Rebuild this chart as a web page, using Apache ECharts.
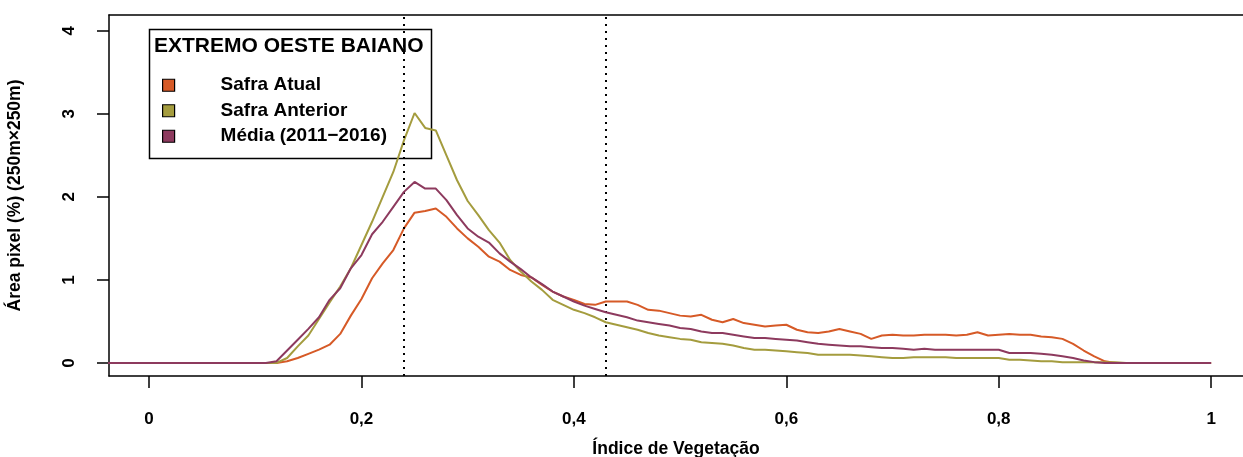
<!DOCTYPE html>
<html>
<head>
<meta charset="utf-8">
<script src="https://cdn.jsdelivr.net/npm/echarts@6/dist/echarts.min.js"></script>
<style>
html,body{margin:0;padding:0;background:#fff;}
#c{width:1243px;height:457px;}
</style>
</head>
<body>
<div id="c"></div>
<script>
// Índice de Vegetação (x values)
const indice = [
 0.10,0.11,0.12,0.13,0.14,0.15,0.16,0.17,0.18,0.19,
 0.20,0.21,0.22,0.23,0.24,0.25,0.26,0.27,0.28,0.29,
 0.30,0.31,0.32,0.33,0.34,0.35,0.36,0.37,0.38,0.39,
 0.40,0.41,0.42,0.43,0.44,0.45,0.46,0.47,0.48,0.49,
 0.50,0.51,0.52,0.53,0.54,0.55,0.56,0.57,0.58,0.59,
 0.60,0.61,0.62,0.63,0.64,0.65,0.66,0.67,0.68,0.69,
 0.70,0.71,0.72,0.73,0.74,0.75,0.76,0.77,0.78,0.79,
 0.80,0.81,0.82,0.83,0.84,0.85,0.86,0.87,0.88,0.89,
 0.90,0.91,0.92
];
const safraAtual = [
 0,0,0,0.02,0.06,0.11,0.16,0.22,0.35,0.57,
 0.77,1.02,1.20,1.36,1.62,1.81,1.83,1.86,1.76,1.62,
 1.50,1.40,1.28,1.22,1.12,1.06,1.03,0.94,0.86,0.80,
 0.76,0.71,0.70,0.74,0.74,0.74,0.70,0.64,0.63,0.60,
 0.57,0.56,0.58,0.52,0.49,0.53,0.48,0.46,0.44,0.45,
 0.46,0.40,0.37,0.36,0.38,0.41,0.38,0.35,0.29,0.33,
 0.34,0.33,0.33,0.34,0.34,0.34,0.33,0.34,0.37,0.33,
 0.34,0.35,0.34,0.34,0.32,0.31,0.29,0.23,0.15,0.08,
 0.02,0,0
];
const safraAnterior = [
 0,0,0,0.06,0.20,0.33,0.53,0.73,0.92,1.14,
 1.42,1.70,2.00,2.30,2.68,3.01,2.83,2.80,2.50,2.20,
 1.95,1.78,1.60,1.45,1.24,1.10,0.98,0.88,0.76,0.70,
 0.64,0.60,0.55,0.49,0.46,0.43,0.40,0.36,0.33,0.31,
 0.29,0.28,0.25,0.24,0.23,0.21,0.18,0.16,0.16,0.15,
 0.14,0.13,0.12,0.10,0.10,0.10,0.10,0.09,0.08,0.07,
 0.06,0.06,0.07,0.07,0.07,0.07,0.06,0.06,0.06,0.06,
 0.06,0.04,0.04,0.03,0.02,0.02,0.01,0.01,0.01,0.01,
 0.01,0.01,0
];
const media = [
 0,0,0.02,0.15,0.28,0.41,0.55,0.76,0.90,1.14,
 1.30,1.55,1.70,1.88,2.06,2.18,2.10,2.10,1.96,1.78,
 1.62,1.52,1.45,1.32,1.22,1.13,1.03,0.95,0.86,0.80,
 0.74,0.69,0.65,0.61,0.58,0.55,0.51,0.49,0.47,0.45,
 0.42,0.41,0.38,0.36,0.36,0.34,0.32,0.30,0.30,0.29,
 0.28,0.27,0.25,0.23,0.22,0.21,0.20,0.20,0.19,0.18,
 0.18,0.17,0.16,0.17,0.16,0.16,0.16,0.16,0.16,0.16,
 0.16,0.12,0.12,0.12,0.11,0.10,0.08,0.06,0.03,0.01,
 0,0,0
];
const baseStart = -0.06;
const baseEnd = 1.0;
const xTicks = [0, 0.2, 0.4, 0.6, 0.8, 1];
const yTicks = [0, 1, 2, 3, 4];
const refLines = [0.24, 0.4275];
const seriesNames = ['Safra Atual', 'Safra Anterior', 'Média (2011−2016)'];
const seriesColors = ['#D65A27', '#A49C3E', '#8D3A5E'];
const legendTitle = 'EXTREMO OESTE BAIANO';
const xTitle = 'Índice de Vegetação';
const yTitle = 'Área pixel (%) (250m×250m)';

function build(vals) {
  const d = [[baseStart, 0]];
  for (let i = 0; i < indice.length; i++) d.push([indice[i], vals[i]]);
  d.push([baseEnd, 0]);
  return d;
}

const font = '"Liberation Sans", Arial, sans-serif';
const chart = echarts.init(document.getElementById('c'), null, {renderer: 'canvas'});
const allVals = [safraAtual, safraAnterior, media];
const frameLine = {show: true, onZero: false, lineStyle: {color: '#000', width: 1.5}};

chart.setOption({
  animation: false,
  backgroundColor: '#fff',
  grid: {left: 109, top: 15, right: 0, bottom: 81, show: false, containLabel: false, outerBoundsMode: 'none'},
  xAxis: [{
    type: 'value', min: -0.0377, max: 1.030,
    axisLine: frameLine,
    splitLine: {show: false},
    axisTick: {show: true, length: 12, inside: false, customValues: xTicks, lineStyle: {color: '#000', width: 1.5}},
    axisLabel: {customValues: xTicks, margin: 35, color: '#000', fontFamily: font, fontWeight: 'bold', fontSize: 17,
      formatter: v => String(v).replace('.', ',')},
    name: xTitle, nameLocation: 'middle', nameGap: 64,
    nameTextStyle: {color: '#000', fontFamily: font, fontWeight: 'bold', fontSize: 17.5}
  }, {
    type: 'value', position: 'top', min: -0.0377, max: 1.030,
    axisLine: frameLine, axisTick: {show: false}, axisLabel: {show: false}, splitLine: {show: false}
  }],
  yAxis: {
    type: 'value', min: -0.157, max: 4.19,
    axisLine: frameLine,
    splitLine: {show: false},
    axisTick: {show: true, length: 12, customValues: yTicks, lineStyle: {color: '#000', width: 1.5}},
    axisLabel: {customValues: yTicks, rotate: 90, margin: 31, color: '#000', fontFamily: font, fontWeight: 'bold', fontSize: 17},
    name: yTitle, nameLocation: 'middle', nameGap: 85, nameRotate: 90,
    nameTextStyle: {color: '#000', fontFamily: font, fontWeight: 'bold', fontSize: 17.5}
  },
  legend: {
    show: true, orient: 'vertical', left: 157, top: 70,
    itemWidth: 12, itemHeight: 12, itemGap: 5, icon: 'rect',
    data: seriesNames.map((n, i) => ({name: n, itemStyle: {color: seriesColors[i], borderColor: '#000', borderWidth: 1.2}})),
    textStyle: {color: '#000', fontFamily: font, fontWeight: 'bold', fontSize: 19, lineHeight: 20.5, padding: [0, 0, 0, 41]},
    selectedMode: false
  },
  graphic: [
    {type: 'rect', left: 147, top: 27, z: 0, shape: {width: 282, height: 129}, style: {fill: 'none', stroke: '#000', lineWidth: 1.5}},
    {type: 'text', left: 154, top: 36, z: 5, style: {text: legendTitle, fill: '#000', font: 'bold 21px ' + font}}
  ],
  series: allVals.map((vals, i) => ({
    name: seriesNames[i], type: 'line', data: build(vals), showSymbol: false, symbol: 'none',
    clip: true, z: 3 + i,
    lineStyle: {color: seriesColors[i], width: 2},
    itemStyle: {color: seriesColors[i]},
    markLine: i === 0 ? {
      silent: true, symbol: 'none', label: {show: false},
      lineStyle: {color: '#000', type: [2, 5], width: 2},
      data: refLines.map(v => ({xAxis: v}))
    } : undefined
  }))
});
</script>
</body>
</html>
